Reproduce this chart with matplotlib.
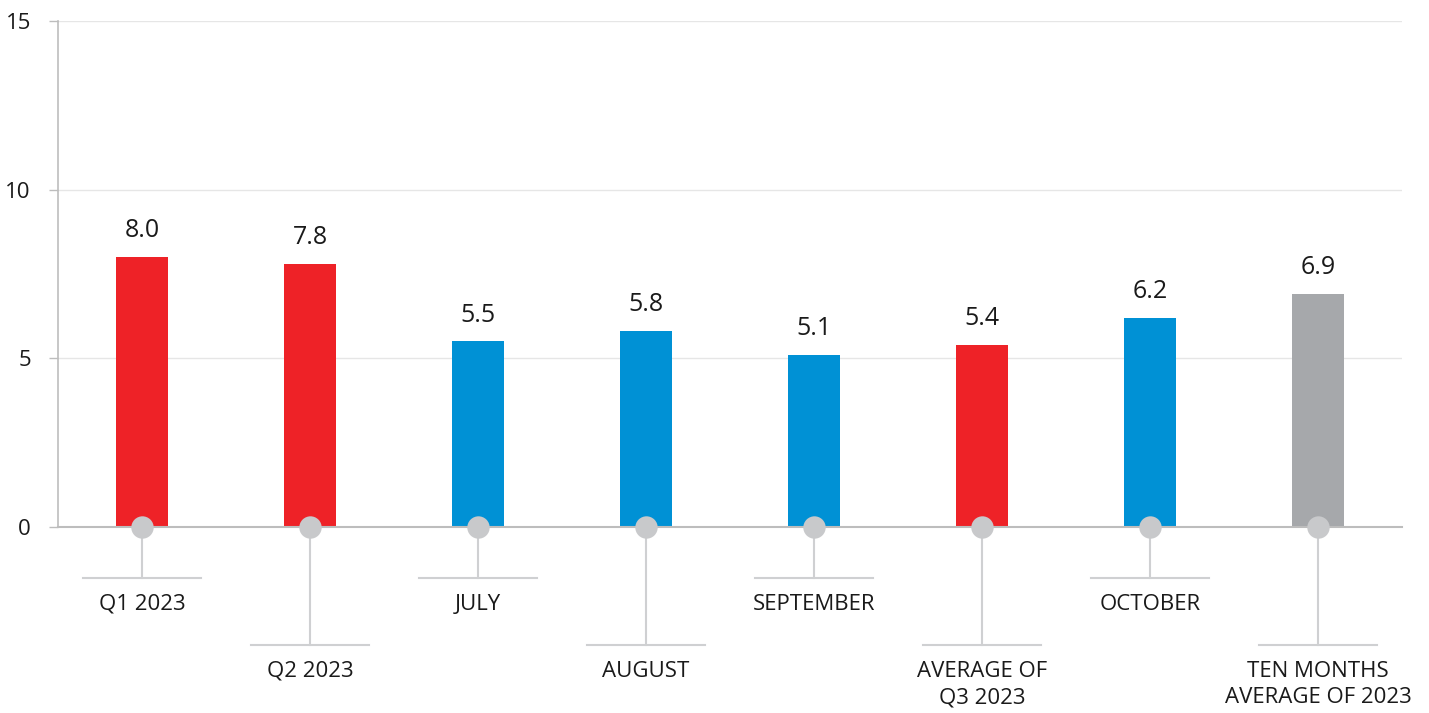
import matplotlib.pyplot as plt

categories = ["Q1 2023", "Q2 2023", "JULY", "AUGUST", "SEPTEMBER",
              "AVERAGE OF\nQ3 2023", "OCTOBER", "TEN MONTHS\nAVERAGE OF 2023"]
values = [8.0, 7.8, 5.5, 5.8, 5.1, 5.4, 6.2, 6.9]
value_labels = ["8.0", "7.8", "5.5", "5.8", "5.1", "5.4", "6.2", "6.9"]
bar_colors = ["#ee2227", "#ee2227", "#0091d5", "#0091d5", "#0091d5",
              "#ee2227", "#0091d5", "#a6a8ab"]
y_ticks = [0, 5, 10, 15]

plt.rcParams['font.family'] = ['Open Sans', 'DejaVu Sans']

fig = plt.figure(figsize=(14.29, 7.13), dpi=100)
ax = fig.add_axes([0.0406, 0.261, 0.9405, 0.7095])

x = list(range(len(categories)))
ax.bar(x, values, width=0.31, color=bar_colors, zorder=2)

for xi, v, lab in zip(x, values, value_labels):
    ax.annotate(lab, (xi, v), xytext=(0, 10), textcoords="offset points",
                ha="center", va="bottom", fontsize=18, color="#1a1a1a")

# leader lines + labels below the axis
line_c = "#cfd0d2"
for i, (xi, cat) in enumerate(zip(x, categories)):
    low = -1.51 if i % 2 == 0 else -3.50
    ax.plot([xi, xi], [0, low], color=line_c, lw=1.5, clip_on=False, zorder=1)
    ax.plot([xi - 0.35, xi + 0.35], [low, low], color=line_c, lw=1.5,
            clip_on=False, zorder=1)
    ax.text(xi, low - 0.47, cat, ha="center", va="top", fontsize=16,
            color="#1a1a1a", linespacing=1.33)
    ax.scatter([xi], [0], s=260, color="#c8c9cb", zorder=4, clip_on=False,
               linewidths=0)

ax.set_xlim(-0.5, 7.5)
ax.set_ylim(0, 15)
ax.set_yticks(y_ticks)
ax.set_xticks([])
ax.grid(axis="y", color="#e6e6e6", lw=1, zorder=0)
ax.tick_params(axis="y", length=6.5, width=1, color="#bdbdbd", pad=13,
               labelsize=16, labelcolor="#1a1a1a")
for s in ["top", "right"]:
    ax.spines[s].set_visible(False)
ax.spines["left"].set_color("#bdbdbd")
ax.spines["bottom"].set_color("#bdbdbd")
ax.spines["left"].set_linewidth(1.2)
ax.spines["bottom"].set_linewidth(1.5)
ax.spines["bottom"].set_zorder(3)

fig.savefig("out.png", dpi=100)
